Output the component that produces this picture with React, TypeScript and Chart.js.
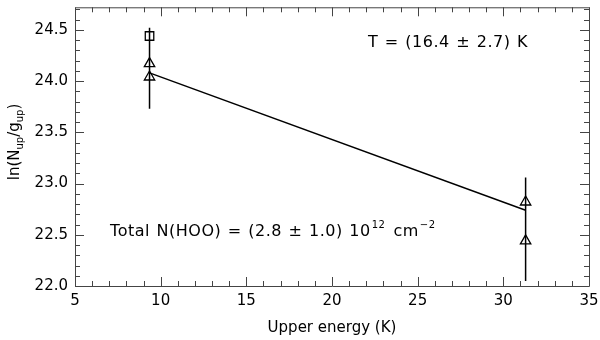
import React, { useEffect, useRef } from "react";
import { Chart, registerables } from "chart.js";

Chart.register(...registerables);

const X_MIN = 5;
const X_MAX = 35;
const Y_MIN = 22.0;
const Y_MAX = 24.72;

const xTickValues = [5, 10, 15, 20, 25, 30, 35];
const yTickValues = [22.0, 22.5, 23.0, 23.5, 24.0, 24.5];

const energies = [9.35, 9.35, 31.3, 31.3];
const lnTriangles = [24.17, 24.04, 22.82, 22.44];

const squareEnergy = [9.35];
const squareLn = [24.44];

const errEnergy = [9.35, 31.3];
const errLow = [23.73, 22.05];
const errHigh = [24.52, 23.06];

const fitEnergy = [9.35, 31.3];
const fitLn = [24.08, 22.74];

const FONT = "'DejaVu Sans', sans-serif";

const framePlugin = {
  id: "frameTicks",
  afterDraw(chart: any) {
    const { ctx, chartArea: a, scales } = chart;
    const xs = scales.x;
    const ys = scales.y;
    ctx.save();
    ctx.strokeStyle = "#444";
    ctx.lineWidth = 1;
    ctx.beginPath();
    ctx.rect(a.left + 0.5, a.top + 0.5, a.right - a.left, a.bottom - a.top);
    ctx.stroke();
    ctx.beginPath();
    for (let v = X_MIN; v <= X_MAX + 1e-6; v += 1) {
      const major = Math.abs(v % 5) < 1e-6;
      const len = major ? 9 : 5;
      const px = Math.round(xs.getPixelForValue(v)) + 0.5;
      ctx.moveTo(px, a.bottom);
      ctx.lineTo(px, a.bottom - len);
      ctx.moveTo(px, a.top);
      ctx.lineTo(px, a.top + len);
    }
    for (let i = 0; i <= 27; i++) {
      const v = Y_MIN + i * 0.1;
      if (v > Y_MAX) break;
      const major = i % 5 === 0;
      const len = major ? 9 : 5;
      const py = Math.round(ys.getPixelForValue(v)) + 0.5;
      ctx.moveTo(a.left, py);
      ctx.lineTo(a.left + len, py);
      ctx.moveTo(a.right, py);
      ctx.lineTo(a.right - len, py);
    }
    ctx.stroke();

    // annotations
    ctx.fillStyle = "#000";
    ctx.textBaseline = "middle";
    ctx.textAlign = "left";
    (ctx as any).letterSpacing = "0.5px";
    (ctx as any).wordSpacing = "1px";
    ctx.font = `16px ${FONT}`;
    const tX = xs.getPixelForValue(22.1);
    const tY = ys.getPixelForValue(24.37);
    ctx.fillText("T = (16.4 ± 2.7) K", tX, tY);

    let x = xs.getPixelForValue(7.05);
    const y = ys.getPixelForValue(22.53);
    const main1 = "Total N(HOO) = (2.8 ± 1.0) 10";
    ctx.fillText(main1, x, y);
    x += ctx.measureText(main1).width;
    ctx.font = `10px ${FONT}`;
    ctx.fillText("12", x + 1, y - 6);
    x += ctx.measureText("12").width + 9;
    ctx.font = `16px ${FONT}`;
    ctx.fillText("cm", x, y);
    x += ctx.measureText("cm").width;
    ctx.font = `10px ${FONT}`;
    ctx.fillText("−2", x + 1, y - 6);
    (ctx as any).letterSpacing = "0px";
    (ctx as any).wordSpacing = "0px";

    // y title
    ctx.save();
    ctx.translate(15, 142);
    ctx.rotate(-Math.PI / 2);
    const parts: [string, boolean][] = [
      ["ln(N", false],
      ["up", true],
      ["/g", false],
      ["up", true],
      [")", false],
    ];
    const fnt = (sub: boolean) => (sub ? `10px ${FONT}` : `15px ${FONT}`);
    let total = 0;
    for (const [s, sub] of parts) {
      ctx.font = fnt(sub);
      total += ctx.measureText(s).width;
    }
    let cx = -total / 2;
    ctx.textAlign = "left";
    for (const [s, sub] of parts) {
      ctx.font = fnt(sub);
      ctx.fillText(s, cx, sub ? 5 : 0);
      cx += ctx.measureText(s).width;
    }
    ctx.restore();
    ctx.restore();
  },
};

export default function App() {
  const ref = useRef<HTMLCanvasElement | null>(null);
  useEffect(() => {
    document.body.style.margin = "0";
    const canvas = ref.current!;
    const errSets = errEnergy.map((e, i) => ({
      type: "line" as const,
      data: [
        { x: e, y: errLow[i] },
        { x: e, y: errHigh[i] },
      ],
      borderColor: "#000",
      borderWidth: 1.5,
      pointRadius: 0,
      showLine: true,
    }));
    const chart = new Chart(canvas, {
      type: "scatter",
      data: {
        datasets: [
          ...errSets,
          {
            type: "line",
            data: fitEnergy.map((e, i) => ({ x: e, y: fitLn[i] })),
            borderColor: "#000",
            borderWidth: 1.5,
            pointRadius: 0,
            showLine: true,
          },
          {
            data: energies.map((e, i) => ({ x: e, y: lnTriangles[i] })),
            pointStyle: "triangle",
            pointRadius: 6,
            borderColor: "#000",
            borderWidth: 1.3,
            backgroundColor: "rgba(0,0,0,0)",
          },
          {
            data: squareEnergy.map((e, i) => ({ x: e, y: squareLn[i] })),
            pointStyle: "rect",
            pointRadius: 6,
            borderColor: "#000",
            borderWidth: 1.3,
            backgroundColor: "rgba(0,0,0,0)",
          },
        ] as any,
      },
      options: {
        animation: false,
        responsive: false,
        layout: { padding: { top: 5, right: 11, left: 0, bottom: 0 } },
        plugins: { legend: { display: false }, tooltip: { enabled: false } },
        scales: {
          x: {
            type: "linear",
            min: X_MIN,
            max: X_MAX,
            afterBuildTicks: (s: any) => {
              s.ticks = xTickValues.map((v) => ({ value: v }));
            },
            afterFit: (s: any) => {
              s.height = 54;
              s.paddingLeft = 0;
              s.paddingRight = 0;
            },
            grid: { display: false, drawTicks: false },
            border: { display: false },
            ticks: {
              color: "#000",
              font: { family: FONT, size: 15 },
              padding: 6,
              maxRotation: 0,
              callback: (v: any) => String(v),
            },
            title: {
              display: true,
              text: "Upper energy (K)",
              color: "#000",
              font: { family: FONT, size: 15 },
              padding: { top: 2, bottom: 3 },
            },
          },
          y: {
            type: "linear",
            min: Y_MIN,
            max: Y_MAX,
            afterBuildTicks: (s: any) => {
              s.ticks = yTickValues.map((v) => ({ value: v }));
            },
            afterFit: (s: any) => {
              s.width = 75;
              s.paddingTop = 0;
              s.paddingBottom = 0;
            },
            grid: { display: false, drawTicks: false },
            border: { display: false },
            ticks: {
              color: "#000",
              font: { family: FONT, size: 15 },
              padding: 7,
              callback: (v: any) => Number(v).toFixed(1),
            },
          },
        },
      },
      plugins: [framePlugin],
    });
    return () => chart.destroy();
  }, []);
  return (
    <div style={{ width: 600, height: 340, background: "#fff" }}>
      <canvas ref={ref} width={600} height={340} style={{ display: "block" }} />
    </div>
  );
}
